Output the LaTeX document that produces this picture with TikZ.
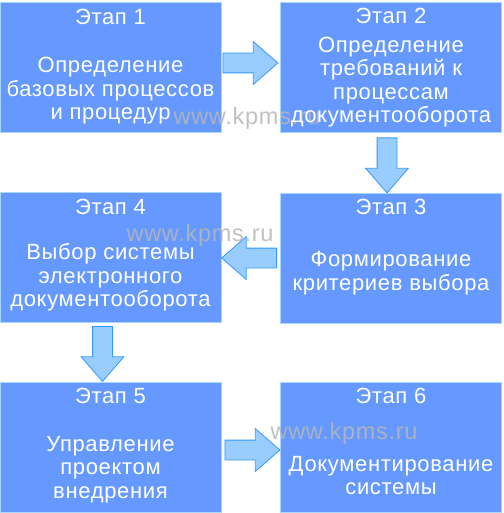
\documentclass[tikz,border=0pt]{standalone}
\usepackage{fontspec}
\setmainfont{Liberation Sans}[LetterSpace=3]
\usetikzlibrary{shapes.arrows,calc}

\definecolor{stagefill}{RGB}{102,153,255}
\definecolor{stageline}{RGB}{168,216,255}
\definecolor{arrowfill}{RGB}{153,204,255}
\definecolor{arrowline}{RGB}{51,153,255}
\definecolor{markgray}{RGB}{182,182,182}

\begin{document}
\begin{tikzpicture}[x=1pt,y=-1pt,
    stage/.style={draw=stageline, line width=1pt, fill=stagefill,
      minimum width=221pt, minimum height=130pt, inner sep=0pt},
    stagetitle/.style={text=white, inner sep=0pt, font=\fontsize{22}{23.5}\selectfont},
    stagetext/.style={text=white, inner sep=0pt, align=center, font=\fontsize{22}{23.5}\selectfont},
    blockarrow/.style={single arrow, draw=arrowline, fill=arrowfill, line width=0.8pt,
      inner xsep=0pt, inner ysep=9.5pt, minimum height=55pt, anchor=tail,
      single arrow head extend=11.5pt, single arrow tip angle=82},
    watermark/.style={text=markgray, opacity=0.85, inner sep=0pt, font=\fontsize{23.5}{23.5}\selectfont}]
    \useasboundingbox (0,0) rectangle (503,513);

    % stages
    \node[stage] (s1) at (110.5,68) {};
    \node[stage] (s2) at (391,68) {};
    \node[stage] (s3) at (391,258) {};
    \node[stage] (s4) at (110.5,257.5) {};
    \node[stage] (s5) at (110.5,447.5) {};
    \node[stage] (s6) at (391,447.5) {};

    % arrows between stages
    \node[blockarrow] (a12) at ([xshift=1pt,yshift=5pt]s1.east) {};
    \node[blockarrow, rotate=-90] (a23) at ([xshift=-4pt,yshift=-4pt]s2.south) {};
    \node[blockarrow, rotate=180] (a34) at ([xshift=-3pt]s3.west) {};
    \node[blockarrow, rotate=-90] (a45) at ([xshift=-8pt,yshift=-3pt]s4.south) {};
    \node[blockarrow] (a56) at ([xshift=3pt,yshift=-2.5pt]s5.east) {};

    % watermarks
    \node[watermark] (w1) at (247,118) {www.kpms.ru};
    \node[watermark] (w2) at (200,235) {www.kpms.ru};
    \node[watermark] (w3) at (344,433) {www.kpms.ru};

    % titles
    \node[stagetitle] (t1) at ($(s1.north)+(0,14.5)$) {Этап 1};
    \node[stagetitle] (t2) at ($(s2.north)+(0,13)$) {Этап 2};
    \node[stagetitle] (t3) at ($(s3.north)+(0,14.5)$) {Этап 3};
    \node[stagetitle] (t4) at ($(s4.north)+(0,14.5)$) {Этап 4};
    \node[stagetitle] (t5) at ($(s5.north)+(0,14)$) {Этап 5};
    \node[stagetitle] (t6) at ($(s6.north)+(0,14)$) {Этап 6};

    % texts
    \node[stagetext] (b1) at ($(s1.center)+(0,23)$) {Определение\\базовых процессов\\и процедур};
    \node[stagetext] (b2) at ($(s2.center)+(0,14)$) {Определение\\требований к\\процессам\\документооборота};
    \node[stagetext] (b3) at ($(s3.center)+(0,15)$) {Формирование\\критериев выбора};
    \node[stagetext] (b4) at ($(s4.center)+(0,20)$) {Выбор системы\\электронного\\документооборота};
    \node[stagetext] (b5) at ($(s5.center)+(0,22)$) {Управление\\проектом\\внедрения};
    \node[stagetext] (b6) at ($(s6.center)+(0,28)$) {Документирование\\системы};
  \end{tikzpicture}
\end{document}
